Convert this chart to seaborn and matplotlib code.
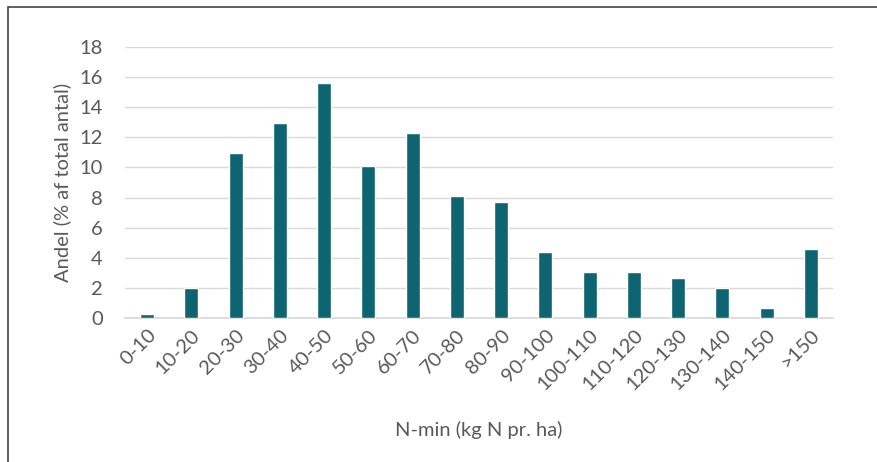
import numpy as np
import pandas as pd
import seaborn as sns
from matplotlib import pyplot as plt
from matplotlib.patches import Rectangle

sns.set_theme(style="white")
plt.rcParams['font.family'] = ['Lato', 'DejaVu Sans']

categories = ["0-10", "10-20", "20-30", "30-40", "40-50", "50-60", "60-70", "70-80",
              "80-90", "90-100", "100-110", "110-120", "120-130", "130-140", "140-150", ">150"]
andel = [0.25, 2.0, 10.95, 12.95, 15.6, 10.1, 12.3, 8.1,
         7.7, 4.4, 3.05, 3.05, 2.65, 2.0, 0.65, 4.6]

df = pd.DataFrame({"kategori": categories, "andel": andel})

grey = "#595959"
fs = 14.5
fig = plt.figure(figsize=(8.77, 4.62), dpi=100)
ax = fig.add_axes([125 / 877, 1 - 318 / 462, (833 - 125) / 877, (318 - 47) / 462])

sns.barplot(data=df, x="kategori", y="andel", color="#0f6472", saturation=1,
            width=0.32, ax=ax, zorder=3)

ax.set_ylim(0, 18)
ax.set_yticks(np.arange(0, 19, 2))
ax.set_xlim(-0.5, len(categories) - 0.5)
ax.yaxis.grid(True, color="#d9d9d9", lw=1, zorder=0)
for s in ["top", "right", "left"]:
    ax.spines[s].set_visible(False)
ax.spines["bottom"].set_color("#d9d9d9")
ax.tick_params(axis="both", length=0, colors=grey, labelsize=fs)
ax.tick_params(axis="y", pad=16)
ax.tick_params(axis="x", pad=6)
plt.setp(ax.get_xticklabels(), rotation=45, ha="right", rotation_mode="anchor")

ax.set_xlabel("N-min (kg N pr. ha)", color=grey, fontsize=fs, labelpad=20)
ax.set_ylabel("Andel (% af total antal)", color=grey, fontsize=fs, labelpad=6)

fig.patches.append(Rectangle((8 / 877, -0.05), 1.0, 1 - 7 / 462 + 0.05,
                             transform=fig.transFigure, fill=False,
                             edgecolor="#444444", lw=1.2))

fig.savefig("out.png", dpi=100)
